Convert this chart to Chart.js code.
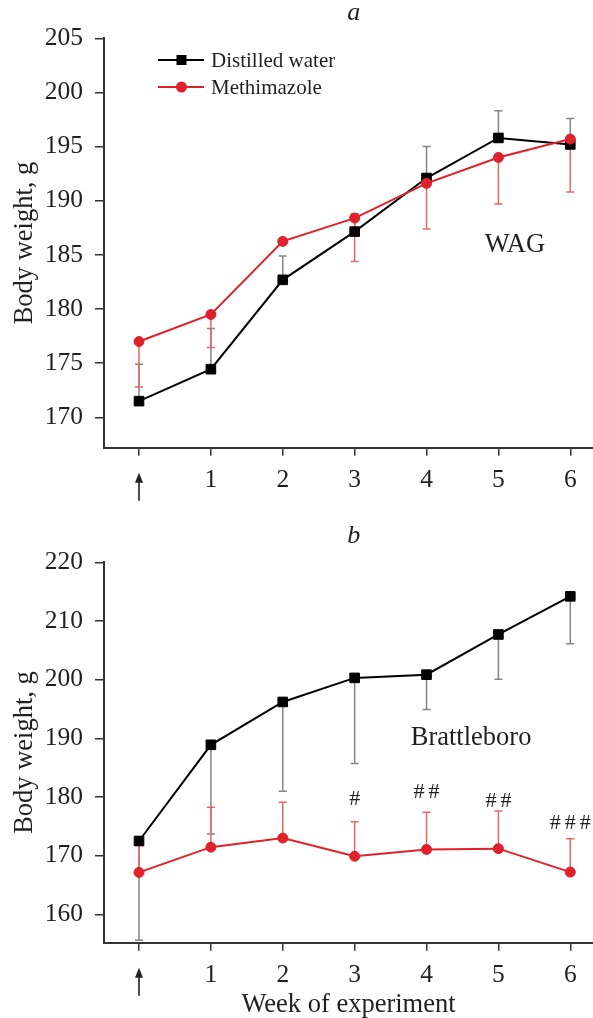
<!DOCTYPE html>
<html>
<head>
<meta charset="utf-8">
<script src="https://cdn.jsdelivr.net/npm/chart.js@4.4.1/dist/chart.umd.min.js"></script>
<style>
  html, body { margin: 0; padding: 0; background: #fff; }
  #wrap { position: relative; width: 593px; height: 1018px; }
  canvas { position: absolute; left: 0; }
  #chartA { top: 0; }
  #chartB { top: 510px; }
</style>
</head>
<body>
<div id="wrap">
  <canvas id="chartA" width="593" height="510"></canvas>
  <canvas id="chartB" width="593" height="508"></canvas>
</div>
<script>
// --- Data ---
const weeks = [0, 1, 2, 3, 4, 5, 6];          // 0 = start of treatment (arrow)
const weekLabels = ['', '1', '2', '3', '4', '5', '6'];
const seriesNames = ['Distilled water', 'Methimazole'];

// a: WAG
const wagWater = [171.5, 174.45, 182.7, 187.15, 192.1, 195.8, 195.2];
const wagWaterSD = [3.4, 3.75, 2.2, 1.65, 2.9, 2.5, 2.4];
const wagMeth = [177.0, 179.5, 186.25, 188.4, 191.6, 194.0, 195.7];
const wagMethSD = [4.2, 3.05, 0.3, 4.0, 4.2, 4.3, 4.9];
const wagTicks = [170, 175, 180, 185, 190, 195, 200, 205];

// b: Brattleboro
const bratWater = [172.5, 188.9, 196.2, 200.3, 200.85, 207.7, 214.2];
const bratWaterSD = [16.9, 15.2, 15.2, 14.6, 5.95, 7.65, 8.1];
const bratMeth = [167.15, 171.45, 173.0, 169.9, 171.05, 171.2, 167.2];
const bratMethSD = [6.05, 6.8, 6.1, 5.9, 6.35, 6.4, 5.7];
const bratTicks = [160, 170, 180, 190, 200, 210, 220];
const bratSig = ['', '', '', '#', '##', '##', '###'];
const bratSigAt = [null, null, null, 179.6, 180.8, 179.2, 175.6];

const RED = '#e0202a';
const FONT = '"Liberation Serif", "Times New Roman", serif';
const INK = '#231f20';
const AXIS = '#333';

// --- Plugin: error bars, start arrow, panel labels, legend ---
const decor = {
  id: 'decor',
  beforeDatasetsDraw(chart) {
    const { ctx, scales: { x, y } } = chart;
    chart.data.datasets.forEach(ds => {
      ctx.save();
      ctx.strokeStyle = ds.errColor;
      ctx.lineWidth = 1.5;
      ds.data.forEach((pt, i) => {
        const px = x.getPixelForValue(pt.x);
        const p0 = y.getPixelForValue(pt.y);
        const p1 = y.getPixelForValue(pt.y + ds.errDir * ds.errors[i]);
        ctx.beginPath();
        ctx.moveTo(px, p0);
        ctx.lineTo(px, p1);
        ctx.moveTo(px - 4, p1);
        ctx.lineTo(px + 4, p1);
        ctx.stroke();
      });
      ctx.restore();
    });
  },
  afterDraw(chart, args, opts) {
    const { ctx, scales: { x, y } } = chart;
    ctx.save();

    // arrow under week 0
    const ax = x.getPixelForValue(0);
    const tip = x.top + 25;
    ctx.strokeStyle = INK;
    ctx.fillStyle = INK;
    ctx.lineWidth = 1.6;
    ctx.beginPath();
    ctx.moveTo(ax, tip + 6);
    ctx.lineTo(ax, tip + 28);
    ctx.stroke();
    ctx.beginPath();
    ctx.moveTo(ax, tip);
    ctx.lineTo(ax - 4, tip + 10);
    ctx.lineTo(ax + 4, tip + 10);
    ctx.closePath();
    ctx.fill();

    // panel letter
    ctx.font = 'italic 26px ' + FONT;
    ctx.textAlign = 'center';
    ctx.textBaseline = 'alphabetic';
    ctx.fillText(opts.letter, x.getPixelForValue(3) - 1, opts.letterY);

    // strain name
    ctx.font = '26.5px ' + FONT;
    ctx.fillText(opts.strain, x.getPixelForValue(opts.strainX), y.getPixelForValue(opts.strainY));

    // significance marks
    if (opts.sig) {
      ctx.font = '22px ' + FONT;
      ctx.textBaseline = 'middle';
      if ('letterSpacing' in ctx) ctx.letterSpacing = '4px';
      opts.sig.forEach((s, i) => {
        if (!s) return;
        ctx.fillText(s, x.getPixelForValue(weeks[i]) + 2, y.getPixelForValue(opts.sigAt[i]));
      });
      if ('letterSpacing' in ctx) ctx.letterSpacing = '0px';
    }

    // legend
    if (opts.legend) {
      const items = chart.data.datasets.slice().sort((a, b) => b.order - a.order);
      items.forEach((ds, k) => {
        const ly = 60 + k * 27;
        ctx.strokeStyle = ds.borderColor;
        ctx.lineWidth = 2;
        ctx.beginPath();
        ctx.moveTo(158, ly);
        ctx.lineTo(204, ly);
        ctx.stroke();
        ctx.fillStyle = ds.pointBackgroundColor;
        if (ds.pointStyle === 'rect') {
          ctx.fillRect(176.5, ly - 5, 10, 10);
        } else {
          ctx.beginPath();
          ctx.arc(181.5, ly, 5.5, 0, Math.PI * 2);
          ctx.fill();
        }
        ctx.fillStyle = INK;
        ctx.font = '21px ' + FONT;
        ctx.textAlign = 'left';
        ctx.textBaseline = 'middle';
        ctx.fillText(ds.label, 211, ly + 1);
      });
    }
    ctx.restore();
  }
};

function makeSets(water, waterSD, waterDir, meth, methSD, methDir) {
  return [
    {
      label: seriesNames[0],
      data: weeks.map((w, i) => ({ x: w, y: water[i] })),
      errors: waterSD, errDir: waterDir, errColor: '#858585',
      borderColor: '#000', backgroundColor: '#000',
      pointBackgroundColor: '#000', pointBorderColor: '#000',
      pointStyle: 'rect', pointRadius: 6.8, pointBorderWidth: 1,
      borderWidth: 2, tension: 0, order: 1, clip: false
    },
    {
      label: seriesNames[1],
      data: weeks.map((w, i) => ({ x: w, y: meth[i] })),
      errors: methSD, errDir: methDir, errColor: '#e46868',
      borderColor: RED, backgroundColor: RED,
      pointBackgroundColor: RED, pointBorderColor: RED,
      pointStyle: 'circle', pointRadius: 5, pointBorderWidth: 1,
      borderWidth: 2, tension: 0, order: 0, clip: false
    }
  ];
}

function makeOptions(cfg) {
  return {
    responsive: false,
    animation: false,
    layout: { autoPadding: false, padding: { top: cfg.top, left: 0, right: 0, bottom: 0 } },
    plugins: {
      legend: { display: false },
      tooltip: { enabled: false },
      decor: cfg.decor
    },
    scales: {
      x: {
        type: 'linear',
        min: -0.487, max: 6.316,
        afterBuildTicks: s => { s.ticks = weeks.map(v => ({ value: v })); },
        afterFit: s => { s.height = cfg.xHeight; s.paddingLeft = 0; s.paddingRight = 0; },
        ticks: {
          autoSkip: false, maxRotation: 0, padding: 9, color: INK,
          font: { family: FONT, size: 25.5 },
          callback: v => weekLabels[weeks.indexOf(v)] ?? ''
        },
        grid: { drawOnChartArea: false, drawTicks: true, tickLength: 8, tickColor: AXIS, lineWidth: 1.5 },
        border: { display: true, color: AXIS, width: 2 },
        title: cfg.xTitle
          ? { display: true, text: 'Week of experiment', color: INK,
              font: { family: FONT, size: 26.5, lineHeight: 1 }, padding: { top: 0, bottom: 0 } }
          : { display: false }
      },
      y: {
        min: cfg.yMin, max: cfg.yMax,
        afterBuildTicks: s => { s.ticks = cfg.yTicks.map(v => ({ value: v })); },
        afterFit: s => { s.width = 104; },
        ticks: { autoSkip: false, padding: 12, color: INK, font: { family: FONT, size: 25.5 } },
        grid: { drawOnChartArea: false, drawTicks: true, tickLength: 9, tickColor: AXIS, lineWidth: 1.5 },
        border: { display: true, color: AXIS, width: 2 },
        title: { display: true, text: 'Body weight, g', color: INK,
                 font: { family: FONT, size: 26.5, lineHeight: 1.2 }, padding: { top: 9 } }
      }
    }
  };
}

new Chart(document.getElementById('chartA'), {
  type: 'line',
  data: { datasets: makeSets(wagWater, wagWaterSD, 1, wagMeth, wagMethSD, -1) },
  options: makeOptions({
    top: 38.3, xHeight: 62.3, xTitle: false,
    yMin: 167.2, yMax: 205, yTicks: wagTicks,
    decor: { letter: 'a', letterY: 20, strain: 'WAG', strainX: 5.23, strainY: 185.3, legend: true }
  }),
  plugins: [decor]
});

new Chart(document.getElementById('chartB'), {
  type: 'line',
  data: { datasets: makeSets(bratWater, bratWaterSD, -1, bratMeth, bratMethSD, 1) },
  options: makeOptions({
    top: 52.3, xHeight: 75.3, xTitle: true,
    yMin: 155.17, yMax: 220, yTicks: bratTicks,
    decor: { letter: 'b', letterY: 33.3, strain: 'Brattleboro', strainX: 4.62, strainY: 188.8,
             sig: bratSig, sigAt: bratSigAt, legend: false }
  }),
  plugins: [decor]
});
</script>
</body>
</html>
